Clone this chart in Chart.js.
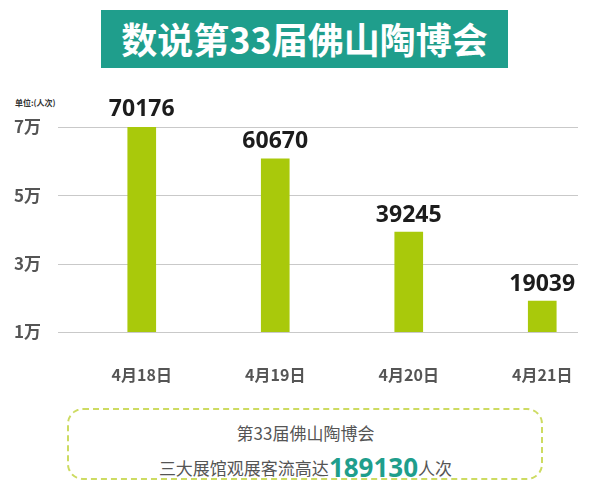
<!DOCTYPE html>
<html>
<head>
<meta charset="utf-8">
<script src="https://cdn.jsdelivr.net/npm/chart.js@4"></script>
<style>
  body { margin: 0; background: #fff; width: 611px; height: 491px; position: relative; overflow: hidden; }
  #banner { position: absolute; left: 101px; top: 10px; width: 407px; height: 58px; background: #1f9e8c;
    color: #fff; font: bold 36px "Noto Sans CJK SC"; line-height: 56px; text-align: center; }
  #unit { position: absolute; left: 15px; top: 97px; font: bold 8px "Noto Sans CJK SC"; color: #333; }
  #wrap { position: absolute; left: 0; top: 80px; width: 611px; height: 310px; }
  #box { position: absolute; left: 67px; top: 408px; width: 472px; height: 68px; border: 2px dashed #cddb62; border-radius: 16px; }
  .line { position: absolute; left: 0; width: 611px; text-align: center; color: #555; font-family: "Noto Sans CJK SC"; }
  #l1 { top: 422px; height: 22px; line-height: 22px; font-size: 17px; }
  #l2 { top: 449px; height: 28px; line-height: 28px; font-size: 17px; }
  #l2 b { color: #1f9e8c; font: bold 26px "Noto Sans", "Noto Sans CJK SC"; vertical-align: -2px; }
</style>
</head>
<body>
<div id="banner">数说第33届佛山陶博会</div>
<div id="unit">单位:(人次)</div>
<div id="wrap"><canvas id="grafico" width="611" height="310"></canvas></div>
<div id="box"></div>
<div class="line" id="l1">第33届佛山陶博会</div>
<div class="line" id="l2">三大展馆观展客流高达<b>189130</b>人次</div>

<script>
const fechas = ["4月18日", "4月19日", "4月20日", "4月21日"];
const visitantes = [70176, 60670, 39245, 19039];
const ticksY = [10000, 30000, 50000, 70000];

// lineas de la cuadricula, algo mas cortas que el area del grafico
const lineasGuia = {
    id: "lineasGuia",
    beforeDatasetsDraw(chart) {
        const ctx = chart.ctx;
        const y = chart.scales.y;
        ctx.save();
        ctx.strokeStyle = "#c9c9c9";
        ctx.lineWidth = 1;
        for (let v of ticksY) {
            let py = Math.round(y.getPixelForValue(v)) + 0.5;
            ctx.beginPath();
            ctx.moveTo(58, py);
            ctx.lineTo(578, py);
            ctx.stroke();
        }
        ctx.restore();
    }
};

// numeros encima de cada barra
const etiquetas = {
    id: "etiquetas",
    afterDatasetsDraw(chart) {
        const ctx = chart.ctx;
        const meta = chart.getDatasetMeta(0);
        ctx.save();
        ctx.font = "bold 23px 'Noto Sans'";
        ctx.fillStyle = "#1c1c1c";
        ctx.textAlign = "center";
        ctx.textBaseline = "middle";
        meta.data.forEach((bar, i) => {
            ctx.fillText(visitantes[i], bar.x, bar.y - 17);
        });
        ctx.restore();
    }
};

new Chart("grafico", {
    type: "bar",
    data: {
        labels: fechas,
        datasets: [{
            data: visitantes,
            backgroundColor: "#a9c90b",
            barThickness: 28,
            borderWidth: 0
        }]
    },
    options: {
        responsive: false,
        animation: false,
        layout: { padding: { left: 14, right: 2, top: 47, bottom: 0 } },
        plugins: { legend: { display: false }, tooltip: { enabled: false } },
        scales: {
            x: {
                grid: { display: false, drawTicks: false },
                border: { display: false },
                ticks: { padding: 33, color: "#555", font: { family: "Noto Sans CJK SC", size: 16, weight: "bold" } },
                afterFit(scale) { scale.height = 58; }
            },
            y: {
                min: 10000,
                max: 70000,
                grid: { display: false, drawTicks: false },
                border: { display: false },
                afterBuildTicks(scale) { scale.ticks = ticksY.map(v => ({ value: v })); },
                ticks: {
                    crossAlign: "far",
                    padding: 0,
                    color: "#555",
                    font: { family: "Noto Sans CJK SC", size: 17, weight: "bold" },
                    callback: v => (v / 10000) + "万"
                },
                afterFit(scale) { scale.width = 61; }
            }
        }
    },
    plugins: [lineasGuia, etiquetas]
});
</script>
</body>
</html>
